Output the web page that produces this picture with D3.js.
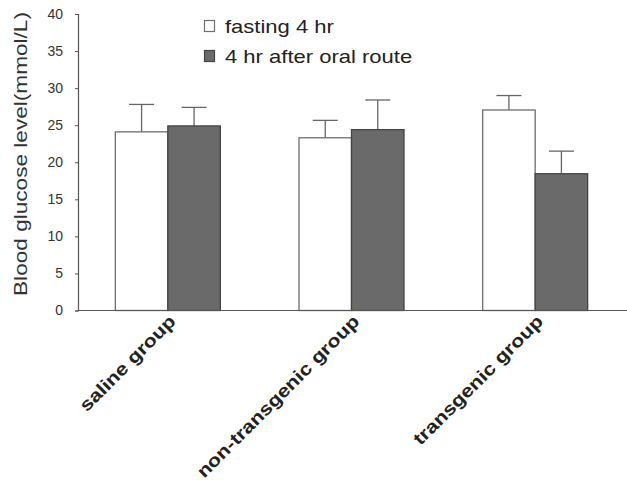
<!DOCTYPE html>
<html lang="en">
<head>
  <meta charset="utf-8">
  <title>Blood glucose level</title>
  <script src="https://d3js.org/d3.v7.min.js"></script>
  <style>
    body { margin: 0; background: #fff; }
    text { font-family: "Liberation Sans", Arial, sans-serif; }
  </style>
</head>
<body>
<div id="chart"></div>
<script>
// data
var groups = ["saline group", "non-transgenic group", "transgenic group"];
var seriesNames = ["fasting 4 hr", "4 hr after oral route"];
var fasting = [24.1, 23.3, 27.05];
var fastingErr = [3.7, 2.35, 1.95];
var oral = [24.9, 24.4, 18.45];
var oralErr = [2.5, 4.0, 3.05];
var yTicks = [0, 5, 10, 15, 20, 25, 30, 35, 40];

var W = 627, H = 486;
var margin = {top: 14, left: 78, bottom: 176};
var plotBottom = H - margin.bottom + 0.5;
var stretch = 1.19; // the original font is wider than Arial

var svg = d3.select("#chart").append("svg")
  .attr("width", W).attr("height", H);

var x = d3.scaleBand()
  .domain(groups)
  .range([76, 627])
  .paddingInner(0).paddingOuter(0);

var y = d3.scaleLinear()
  .domain([0, 40])
  .range([plotBottom, margin.top]);

var barW = 52.5;
var fills = ["#ffffff", "#6a6a6a"];
var strokes = ["#6e6e6e", "#444444"];

var rows = groups.map(function(g, i) {
  return [
    {g: g, s: 0, v: fasting[i], e: fastingErr[i]},
    {g: g, s: 1, v: oral[i], e: oralErr[i]}
  ];
});
var flat = [].concat.apply([], rows);

function barX(d) {
  var c = x(d.g) + x.bandwidth() / 2;
  return d.s === 0 ? c - barW : c;
}

// error bars (upper only)
var eb = svg.append("g").attr("stroke", "#666").attr("stroke-width", 1.3);
flat.forEach(function(d) {
  var cx = barX(d) + barW / 2;
  eb.append("line")
    .attr("x1", cx).attr("x2", cx)
    .attr("y1", y(d.v)).attr("y2", y(d.v + d.e));
  eb.append("line")
    .attr("x1", cx - 12.5).attr("x2", cx + 12.5)
    .attr("y1", y(d.v + d.e)).attr("y2", y(d.v + d.e));
});

// bars
svg.append("g").selectAll("rect")
  .data(flat)
  .enter().append("rect")
    .attr("x", barX)
    .attr("y", function(d) { return y(d.v); })
    .attr("width", barW)
    .attr("height", function(d) { return y(0) - y(d.v); })
    .attr("fill", function(d) { return fills[d.s]; })
    .attr("stroke", function(d) { return strokes[d.s]; })
    .attr("stroke-width", 1.3);

// y axis
var yAxis = svg.append("g")
  .attr("transform", "translate(" + margin.left + ",0)")
  .call(d3.axisLeft(y).tickValues(yTicks).tickSize(3).tickPadding(12));
yAxis.select(".domain").attr("stroke", "#555").attr("stroke-width", 1.2);
yAxis.selectAll(".tick line").attr("stroke", "#555");
yAxis.selectAll(".tick text")
  .attr("fill", "#333")
  .style("font-size", "14px")
  .style("font-family", "Liberation Sans, Arial, sans-serif");

// x axis line
var xAxis = svg.append("g")
  .attr("transform", "translate(0," + y(0) + ")")
  .call(d3.axisBottom(x).tickSize(0).tickFormat(""));
xAxis.select(".domain")
  .attr("d", "M" + margin.left + ",0H" + W)
  .attr("stroke", "#555").attr("stroke-width", 1.2);

// rotated category labels
svg.append("g").selectAll("text")
  .data(groups)
  .enter().append("text")
    .attr("transform", function(d) {
      return "translate(" + (x(d) + x.bandwidth() / 2 + 9) + "," + (y(0) + 12) + ")rotate(-45)scale(" + stretch + ",1)";
    })
    .attr("text-anchor", "end")
    .attr("fill", "#222")
    .style("font-size", "18px")
    .style("font-weight", "bold")
    .text(function(d) { return d; });

// y label
svg.append("text")
  .attr("transform", "translate(27,154)rotate(-90)scale(" + stretch + ",1)")
  .attr("text-anchor", "middle")
  .attr("fill", "#333")
  .style("font-size", "19px")
  .text("Blood glucose level(mmol/L)");

// legend
var legend = svg.append("g").attr("transform", "translate(204,20)");
seriesNames.forEach(function(name, i) {
  var row = legend.append("g").attr("transform", "translate(0," + (i * 30) + ")");
  row.append("rect")
    .attr("x", 0.5).attr("y", 0.5)
    .attr("width", 10).attr("height", 11)
    .attr("fill", fills[i])
    .attr("stroke", strokes[i]).attr("stroke-width", 1.2);
  row.append("text")
    .attr("transform", "translate(21,13)scale(" + stretch + ",1)")
    .attr("fill", "#222")
    .style("font-size", "18.5px")
    .text(name);
});
</script>
</body>
</html>
